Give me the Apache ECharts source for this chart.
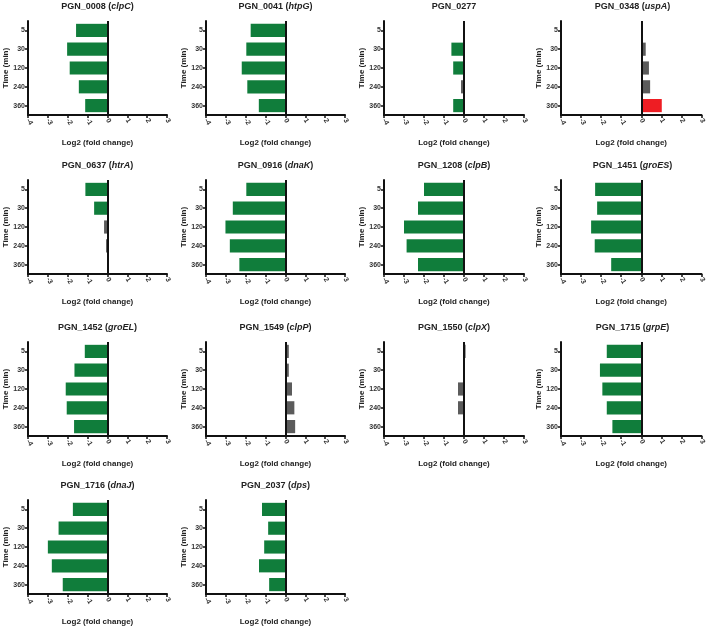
<!DOCTYPE html>
<html><head><meta charset="utf-8">
<script src="https://cdn.jsdelivr.net/npm/echarts@6/dist/echarts.min.js"></script>
<style>html,body{margin:0;padding:0;background:#fff}#c{width:708px;height:628px}</style>
</head><body><div id="c"></div>
<script>
// Time points (y categories, top to bottom)
const timepoints = ['5', '30', '120', '240', '360'];
// x-axis ticks
const xTicks = [-4, -3, -2, -1, 0, 1, 2, 3];
// Gene identifiers and names
const geneIds = ['PGN_0008','PGN_0041','PGN_0277','PGN_0348','PGN_0637','PGN_0916','PGN_1208','PGN_1451','PGN_1452','PGN_1549','PGN_1550','PGN_1715','PGN_1716','PGN_2037'];
const geneNames = ['clpC','htpG','','uspA','htrA','dnaK','clpB','groES','groEL','clpP','clpX','grpE','dnaJ','dps'];

// Log2 fold change per gene (5, 30, 120, 240, 360 min)
const fc0008 = [-1.58, -2.03, -1.90, -1.44, -1.12];
const fc0041 = [-1.75, -1.97, -2.20, -1.92, -1.34];
const fc0277 = [-0.03, -0.63, -0.54, -0.15, -0.54];
const fc0348 = [0, 0.22, 0.38, 0.44, 1.02];
const fc0637 = [-1.11, -0.67, -0.17, -0.07, 0.05];
const fc0916 = [-1.97, -2.65, -3.02, -2.80, -2.32];
const fc1208 = [-2.00, -2.30, -3.00, -2.87, -2.30];
const fc1451 = [-2.30, -2.20, -2.50, -2.32, -1.50];
const fc1452 = [-1.14, -1.66, -2.10, -2.05, -1.68];
const fc1549 = [0.17, 0.17, 0.33, 0.45, 0.49];
const fc1550 = [0.08, 0, -0.30, -0.30, 0];
const fc1715 = [-1.72, -2.06, -1.94, -1.72, -1.44];
const fc1716 = [-1.74, -2.46, -3.00, -2.80, -2.25];
const fc2037 = [-1.18, -0.87, -1.07, -1.33, -0.82];

// Significance class per bar: d = down, n = not significant, u = up
const sig0008 = ['d','d','d','d','d'];
const sig0041 = ['d','d','d','d','d'];
const sig0277 = ['n','d','d','n','d'];
const sig0348 = ['n','n','n','n','u'];
const sig0637 = ['d','d','n','n','n'];
const sig0916 = ['d','d','d','d','d'];
const sig1208 = ['d','d','d','d','d'];
const sig1451 = ['d','d','d','d','d'];
const sig1452 = ['d','d','d','d','d'];
const sig1549 = ['n','n','n','n','n'];
const sig1550 = ['n','n','n','n','n'];
const sig1715 = ['d','d','d','d','d'];
const sig1716 = ['d','d','d','d','d'];
const sig2037 = ['d','d','d','d','d'];

const values = [fc0008, fc0041, fc0277, fc0348, fc0637, fc0916, fc1208, fc1451, fc1452, fc1549, fc1550, fc1715, fc1716, fc2037];
const sigs = [sig0008, sig0041, sig0277, sig0348, sig0637, sig0916, sig1208, sig1451, sig1452, sig1549, sig1550, sig1715, sig1716, sig2037];

const colors = { d: '#107d3b', n: '#5b5b5b', u: '#ee1d23' };
const FONT = 'Liberation Sans, Arial, sans-serif';

const colLeft = [28, 206, 384, 561];
const colWidth = [139, 139, 140, 143];
const rowTop = [21, 180, 342, 500];
const gridH = 94;

const grids = [], xAxes = [], yAxes = [], series = [], titles = [];
geneIds.forEach((id, i) => {
  const r = Math.floor(i / 4), c = i % 4;
  const left = colLeft[c], top = rowTop[r], w = colWidth[c];
  grids.push({ left: left, top: top, width: w, height: gridH });
  titles.push({
    text: geneNames[i] ? '{b|' + id + ' (}{i|' + geneNames[i] + '}{b|)}' : '{b|' + id + '}',
    left: left + w / 2, top: top - 19, textAlign: 'center', padding: 0,
    textStyle: { rich: {
      b: { fontFamily: FONT, fontSize: 9, fontWeight: 'bold', color: '#222' },
      i: { fontFamily: FONT, fontSize: 9, fontWeight: 'bold', fontStyle: 'italic', color: '#222' }
    } }
  });
  xAxes.push({
    type: 'value', gridIndex: i, min: -4, max: 3, interval: 1,
    name: 'Log2 (fold change)', nameLocation: 'middle', nameGap: 24,
    nameTextStyle: { fontFamily: FONT, fontSize: 8, fontWeight: 'bold', color: '#222' },
    axisLine: { show: true, onZero: false, lineStyle: { color: '#111', width: 2 } },
    axisTick: { show: true, length: 3, lineStyle: { color: '#111', width: 1.5 } },
    axisLabel: { rotate: -60, fontFamily: FONT, fontSize: 7, fontWeight: 'bold', color: '#333', margin: 4,
      formatter: v => xTicks.includes(v) ? String(v) : '' },
    splitLine: { show: false }
  });
  yAxes.push({
    type: 'category', gridIndex: i, data: timepoints, inverse: true,
    name: 'Time (min)', nameLocation: 'middle', nameGap: 18,
    nameTextStyle: { fontFamily: FONT, fontSize: 8, fontWeight: 'bold', color: '#222' },
    axisLine: { show: true, onZero: false, lineStyle: { color: '#111', width: 2 } },
    axisTick: { show: true, alignWithLabel: true, length: 3, lineStyle: { color: '#111', width: 1.5 } },
    axisLabel: { fontFamily: FONT, fontSize: 7, fontWeight: 'bold', color: '#333', margin: 3 },
    splitLine: { show: false }
  });
  series.push({
    type: 'bar', xAxisIndex: i, yAxisIndex: i, barCategoryGap: '30%',
    data: values[i].map((v, k) => ({ value: v, itemStyle: { color: colors[sigs[i][k]] } })),
    markLine: { silent: true, symbol: 'none', label: { show: false },
      lineStyle: { color: '#111', width: 2, type: 'solid' }, data: [{ xAxis: 0 }] }
  });
});

const chart = echarts.init(document.getElementById('c'), null, { renderer: 'canvas' });
chart.setOption({
  backgroundColor: '#fff', animation: false,
  title: titles, grid: grids, xAxis: xAxes, yAxis: yAxes, series: series
});
</script>
</body></html>
